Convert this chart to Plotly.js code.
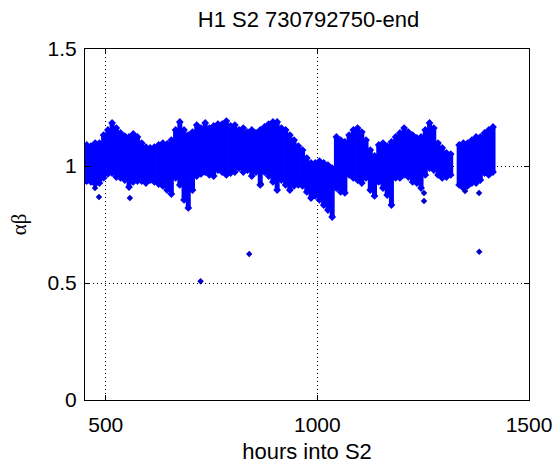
<!DOCTYPE html>
<html>
<head>
<meta charset="utf-8">
<script src="https://cdn.plot.ly/plotly-3.0.1.min.js"></script>
<style>html,body{margin:0;padding:0;background:#fff;}#chart{width:558px;height:464px;}</style>
</head>
<body>
<div id="chart"></div>
<script>
// Band of alpha*beta values: for each hour column, the upper and lower edge of the dense point cloud
const hours = [455,465,475,485,495,505,515,525,535,545,555,565,575,585,595,605,615,625,635,645,655,665,675,685,695,705,715,725,735,745,755,765,775,785,795,805,815,825,835,845,855,865,875,885,895,905,915,925,935,945,955,965,975,985,995,1005,1015,1025,1035,1045,1055,1065,1075,1085,1095,1105,1115,1125,1135,1145,1155,1165,1175,1185,1195,1205,1215,1225,1235,1245,1255,1265,1275,1285,1295,1305,1315,1335,1345,1355,1365,1375,1385,1395,1405,1415];
const upper = [1.090,1.085,1.098,1.098,1.132,1.154,1.184,1.162,1.141,1.128,1.124,1.137,1.124,1.098,1.081,1.077,1.081,1.090,1.098,1.094,1.111,1.154,1.188,1.154,1.132,1.145,1.175,1.162,1.184,1.162,1.171,1.179,1.179,1.192,1.171,1.175,1.154,1.162,1.145,1.154,1.141,1.154,1.167,1.179,1.188,1.188,1.162,1.154,1.132,1.111,1.085,1.068,1.034,1.013,1.013,1.021,1.013,1.004,0.991,1.124,1.111,1.103,1.132,1.154,1.162,1.145,1.111,1.068,1.043,1.090,1.098,1.085,1.103,1.124,1.141,1.162,1.145,1.132,1.120,1.124,1.154,1.184,1.162,1.098,1.077,1.056,1.051,1.090,1.098,1.098,1.111,1.124,1.124,1.141,1.154,1.167];
const lower = [0.936,0.932,0.923,0.927,0.949,0.966,0.970,0.953,0.949,0.940,0.910,0.932,0.936,0.936,0.927,0.940,0.932,0.923,0.915,0.897,0.880,0.949,0.919,0.855,0.821,0.897,0.957,0.966,0.974,0.962,0.957,0.983,0.974,0.962,0.970,0.974,0.991,0.974,0.983,0.957,0.974,0.919,0.974,0.957,0.932,0.897,0.940,0.919,0.897,0.915,0.919,0.915,0.889,0.863,0.872,0.855,0.833,0.812,0.782,0.906,0.889,0.885,0.962,0.949,0.940,0.927,0.949,0.897,0.872,0.932,0.906,0.876,0.833,0.949,0.949,0.962,0.953,0.932,0.927,0.906,0.962,0.991,0.983,0.962,0.949,0.953,0.962,0.919,0.906,0.915,0.927,0.927,0.940,0.970,0.962,0.974];
// Isolated points outside the band
const outlierHours = [474.6,484,557,867,1252,1252,1349,1382,724,839,1382.5];
const outlierValues = [0.906,0.868,0.863,0.923,0.885,0.850,0.893,0.885,0.508,0.624,0.634];

const titleText = 'H1 S2 730792750-end';
const xTitle = 'hours into S2';
const yTitle = 'αβ';

const segX = [], segY = [];
for (let i = 0; i < hours.length; i++) {
  segX.push(hours[i], hours[i], null);
  segY.push(lower[i], upper[i], null);
}

const blue = 'rgb(0,0,255)';
const data = [
  {
    type: 'scatter', mode: 'lines+markers', x: segX, y: segY,
    line: {color: blue, width: 5},
    marker: {color: blue, size: 6, symbol: 'diamond'},
    connectgaps: false, hoverinfo: 'skip', showlegend: false
  },
  {
    type: 'scatter', mode: 'markers', x: outlierHours, y: outlierValues,
    marker: {color: 'rgb(0,0,200)', size: 5, symbol: 'diamond'},
    showlegend: false
  }
];

const axisCommon = {
  showline: true, linecolor: '#000', linewidth: 1, mirror: 'ticks',
  ticks: 'inside', ticklen: 5, tickcolor: '#000',
  showgrid: true, gridcolor: '#000', griddash: '1px,3px', gridwidth: 1,
  zeroline: false,
  tickfont: {family: 'Liberation Sans, Arial, sans-serif', size: 21, color: '#000'}
};

const layout = {
  width: 558, height: 464,
  margin: {l: 85, r: 29, t: 49, b: 64},
  paper_bgcolor: '#fff', plot_bgcolor: '#fff',
  title: {text: titleText, font: {family: 'Liberation Sans, Arial, sans-serif', size: 22, color: '#000'},
          x: 0.553, xanchor: 'center', y: 0.975, yanchor: 'top'},
  xaxis: Object.assign({}, axisCommon, {
    range: [451, 1500], tickvals: [500, 1000, 1500], ticktext: ['500','1000','1500'],
    ticklabelstandoff: 6,
    title: {text: xTitle, font: {family: 'Liberation Sans, Arial, sans-serif', size: 22, color: '#000'}, standoff: 13}
  }),
  yaxis: Object.assign({}, axisCommon, {
    range: [0, 1.5], tickvals: [0, 0.5, 1, 1.5], ticktext: ['0','0.5','1','1.5'],
    ticklabelstandoff: 3,
    title: {text: yTitle, font: {family: 'Liberation Serif, Times New Roman, serif', size: 21, color: '#000'}, standoff: 15}
  }),
  showlegend: false
};

Plotly.newPlot('chart', data, layout, {displayModeBar: false, staticPlot: true});
</script>
</body>
</html>
